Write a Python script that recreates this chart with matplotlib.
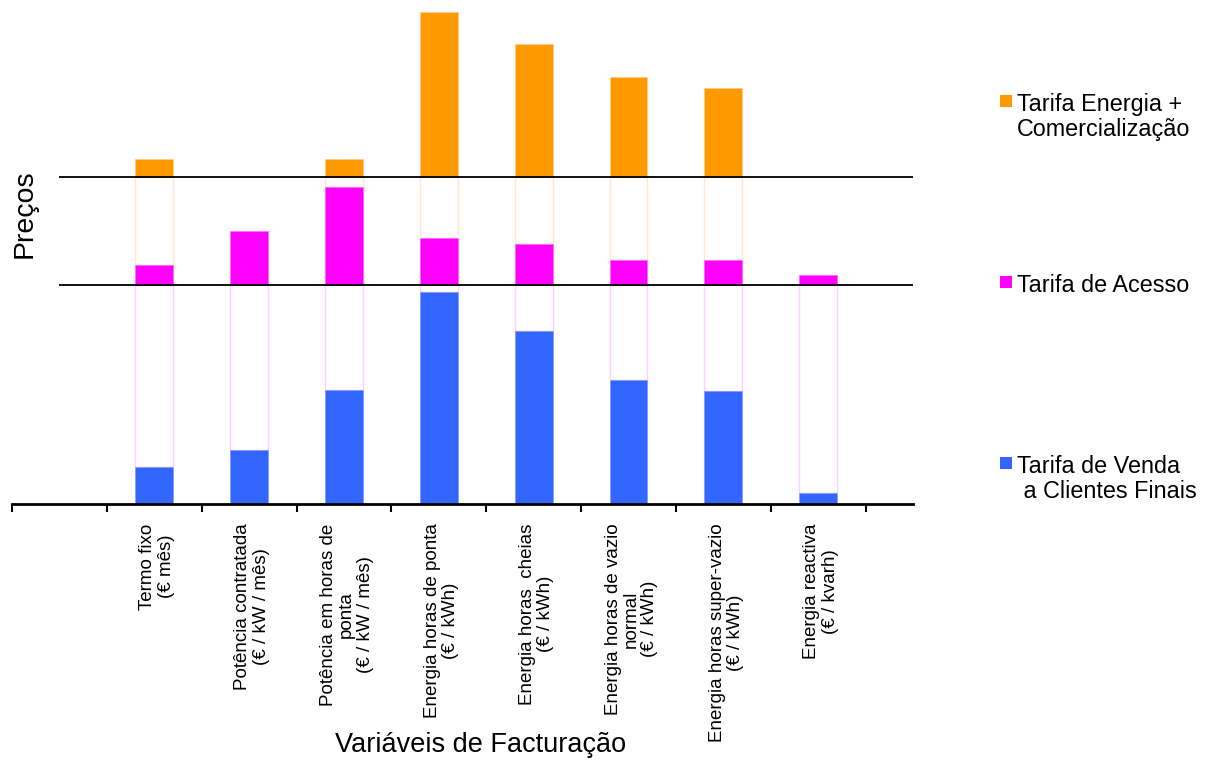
import numpy as np
import matplotlib.pyplot as plt
from matplotlib.patches import Rectangle

plt.rcParams['font.family'] = ['Liberation Sans', 'DejaVu Sans']

# categories (first slot is left empty in the original chart)
categories = [
    "",
    "Termo fixo\n(€ mês)",
    "Potência contratada\n(€ / kW / mês)",
    "Potência em horas de\nponta\n(€ / kW / mês)",
    "Energia horas de ponta\n(€ / kWh)",
    "Energia horas  cheias\n(€ / kWh)",
    "Energia horas de vazio\nnormal\n(€ / kWh)",
    "Energia horas super-vazio\n(€ / kWh)",
    "Energia reactiva\n(€ / kvarh)",
]

# values (arbitrary price units, each band has its own scale)
venda = [0, 37, 54, 114, 212, 173, 124, 113, 11]      # Tarifa de Venda a Clientes Finais
acesso = [0, 20, 54, 98, 47, 41, 25, 25, 10]          # Tarifa de Acesso
energia = [0, 18, 0, 18, 165, 133, 100, 89, 0]        # Tarifa Energia + Comercialização

# band boundaries (the two black separator lines)
band1 = 219
band2 = 327

c_venda = "#3366ff"
c_acesso = "#ff00ff"
c_energia = "#ff9900"

W, H = 1208, 760
fig = plt.figure(figsize=(W / 100, H / 100), dpi=100)
ax = fig.add_axes([12 / W, (H - 504) / H, 901 / W, 492 / H])

x = np.arange(len(categories))
venda = np.array(venda)
acesso = np.array(acesso)
energia = np.array(energia)
bw = 0.4
has = np.arange(len(categories)) > 0

# lower band: blue bar, then an empty frame up to the first line
ax.bar(x[has], venda[has], width=bw, color=c_venda, edgecolor="#8899ff", linewidth=0.6, zorder=2)
ax.bar(x[has], band1 - venda[has], bottom=venda[has], width=bw, color="white",
       edgecolor=(1.0, 0.6, 1.0, 0.45), linewidth=1.0, zorder=1)

# middle band: magenta bar from first line, empty frame up to second line
ax.bar(x[has], acesso[has], bottom=band1, width=bw, color=c_acesso, edgecolor="#ff66ff", linewidth=0.6, zorder=2)
up = has & (energia > 0)
ax.bar(x[up], band2 - band1 - acesso[up], bottom=band1 + acesso[up], width=bw, color="white",
       edgecolor=(1.0, 0.8, 0.6, 0.45), linewidth=1.0, zorder=1)

# upper band: orange bar from second line
ax.bar(x[up], energia[up], bottom=band2, width=bw, color=c_energia, edgecolor="#ffcc88", linewidth=0.6, zorder=2)

ax.hlines([band1, band2], 0, 9.0, color="black", linewidth=1.3, zorder=3)

ax.set_xlim(-0.5, 9.0)
ax.set_ylim(0, 492)
for s in ("left", "right", "top"):
    ax.spines[s].set_visible(False)
ax.spines["bottom"].set_linewidth(2)
ax.spines["bottom"].set_zorder(4)
ax.set_yticks([])

ax.set_xticks(np.arange(-0.5, 9.0, 1.0))
ax.set_xticklabels([])
ax.tick_params(axis="x", which="major", length=6, width=1.5, direction="out")
ax.set_xticks(x + 0.03, minor=True)
ax.set_xticklabels(categories, minor=True, rotation=90, fontsize=13.5,
                   va="top", ha="center", multialignment="center", linespacing=1.1)
ax.tick_params(axis="x", which="minor", length=0, pad=14)

fig.text(481 / W, 1 - 745 / H, "Variáveis de Facturação", fontsize=19.5, ha="center", va="center")
fig.text(25 / W, 1 - 214 / H, "Preços", fontsize=20.5, rotation=90, ha="center", va="center")

# legend on the right, aligned with each band
legend_items = [
    (c_energia, "Tarifa Energia +\nComercialização", 101, 117),
    (c_acesso, "Tarifa de Acesso", 282, 285),
    (c_venda, "Tarifa de Venda\n a Clientes Finais", 463, 479),
]
for col, label, ysq, ytxt in legend_items:
    fig.add_artist(Rectangle((1000 / W, 1 - (ysq + 6) / H), 12 / W, 12 / H,
                             transform=fig.transFigure, facecolor=col, edgecolor="none"))
    fig.text(1017 / W, 1 - ytxt / H, label, fontsize=16.8, ha="left", va="center", linespacing=1.12)

fig.savefig("out.png", dpi=100)
